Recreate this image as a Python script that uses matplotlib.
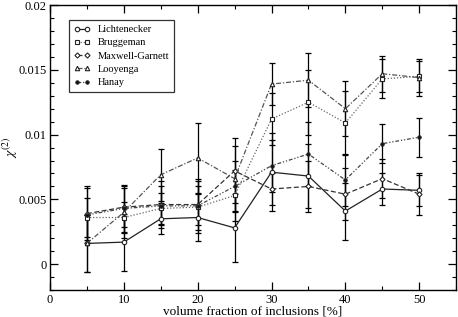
import matplotlib
matplotlib.use("Agg")
import matplotlib.pyplot as plt
from matplotlib.ticker import MultipleLocator

x = [5, 10, 15, 20, 25, 30, 35, 40, 45, 50]

lich = [0.0016, 0.0017, 0.0035, 0.0036, 0.0028, 0.0071, 0.0068, 0.0041, 0.0058, 0.0057]
lich_err = [0.0022, 0.0022, 0.0012, 0.0018, 0.0026, 0.0030, 0.0025, 0.0022, 0.0012, 0.0012]
brug = [0.0036, 0.0036, 0.0043, 0.0044, 0.0053, 0.0112, 0.0125, 0.0109, 0.0143, 0.0145]
brug_err = [0.0015, 0.0012, 0.0012, 0.0020, 0.0020, 0.0020, 0.0025, 0.0025, 0.0015, 0.0012]
mg = [0.0039, 0.0044, 0.0046, 0.0046, 0.0072, 0.0058, 0.0060, 0.0054, 0.0066, 0.0054]
mg_err = [0.0020, 0.0015, 0.0018, 0.0020, 0.0025, 0.0012, 0.0020, 0.0020, 0.0015, 0.0016]
looy = [0.0016, 0.0040, 0.0069, 0.0082, 0.0066, 0.0139, 0.0142, 0.0120, 0.0147, 0.0144]
looy_err = [0.0022, 0.0020, 0.0020, 0.0027, 0.0025, 0.0016, 0.0021, 0.0021, 0.0014, 0.0014]
hanay = [0.0038, 0.0043, 0.0045, 0.0045, 0.0060, 0.0076, 0.0085, 0.0065, 0.0093, 0.0098]
hanay_err = [0.0022, 0.0018, 0.0015, 0.0015, 0.0020, 0.0020, 0.0025, 0.0020, 0.0015, 0.0015]

labels = ["Lichtenecker", "Bruggeman", "Maxwell-Garnett", "Looyenga", "Hanay"]

plt.rcParams["font.family"] = ["Liberation Serif", "DejaVu Serif"]
plt.rcParams["mathtext.fontset"] = "stix"

fig = plt.figure(figsize=(4.58, 3.17), dpi=100)
ax = fig.add_axes([0.109, 0.085, 0.887, 0.899])

styles = [
    dict(marker="o", mfc="white", color="#222222", dashes=None),
    dict(marker="s", mfc="white", color="#666666", dashes=(1, 1.5)),
    dict(marker="D", mfc="white", color="#333333", dashes=(4, 2)),
    dict(marker="^", mfc="white", color="#555555", dashes=(4, 1.5, 1, 1.5)),
    dict(marker="o", mfc="#111111", color="#444444", dashes=(3, 1.5, 1, 1.5, 1, 1.5)),
]
series = [(lich, lich_err), (brug, brug_err), (mg, mg_err), (looy, looy_err), (hanay, hanay_err)]

for (y, e), st, lab in zip(series, styles, labels):
    ax.errorbar(x, y, yerr=e, fmt="none", ecolor="black", elinewidth=0.9,
                capsize=2.5, capthick=0.9, zorder=2)
    ms = 3.2
    if st["marker"] == "D":
        ms = 2.6
    if lab == "Hanay":
        ms = 2.4
    line, = ax.plot(x, y, marker=st["marker"], mfc=st["mfc"], mec="#222222",
                    ms=ms, mew=0.8, color=st["color"], lw=0.9, label=lab, zorder=3)
    if st["dashes"] is not None:
        line.set_dashes(st["dashes"])

ax.set_xlim(0, 55)
ax.set_ylim(-0.002, 0.02)
ax.xaxis.set_major_locator(MultipleLocator(10))
ax.xaxis.set_minor_locator(MultipleLocator(5))
ax.yaxis.set_minor_locator(MultipleLocator(0.001))
ax.set_yticks([0, 0.005, 0.01, 0.015, 0.02])
ax.set_yticklabels(["0", "0.005", "0.01", "0.015", "0.02"])
ax.tick_params(which="both", direction="in", top=True, right=True, labelsize=9, pad=2.5)
ax.tick_params(which="major", length=6, width=0.9)
ax.tick_params(which="minor", length=3, width=0.8)
for s in ax.spines.values():
    s.set_linewidth(1.0)

ax.set_xlabel("volume fraction of inclusions [%]", fontsize=9.5, labelpad=0)
ax.set_ylabel(r"$\chi^{(2)}$", fontsize=10)
ax.yaxis.set_label_coords(-0.074, 0.5)

leg = ax.legend(loc="upper left", bbox_to_anchor=(0.047, 0.947), numpoints=2,
                fontsize=7.5, frameon=True, fancybox=False, edgecolor="black",
                handlelength=1.6, handletextpad=0.7, borderpad=0.45,
                labelspacing=0.38, borderaxespad=0)
leg.get_frame().set_linewidth(0.9)

fig.savefig("out.png", dpi=100)
